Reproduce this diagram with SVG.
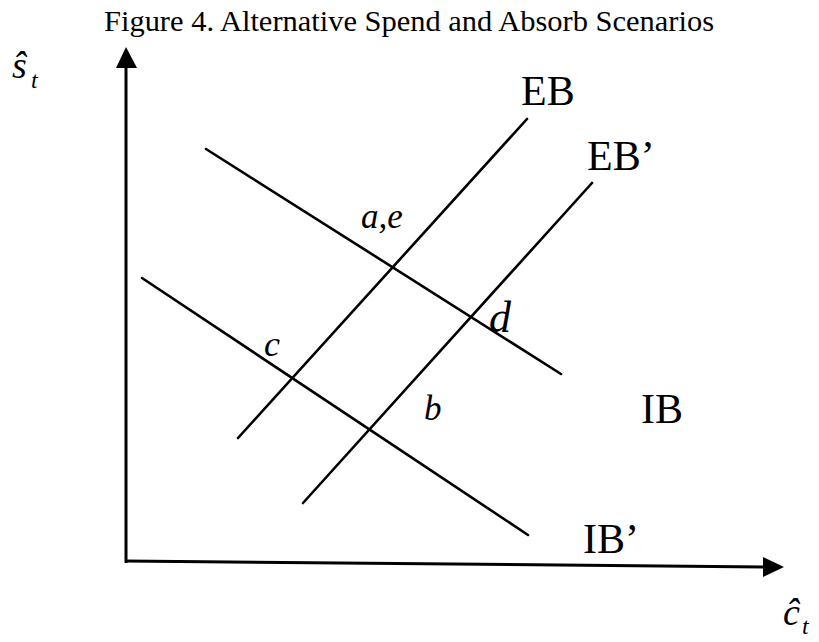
<svg xmlns="http://www.w3.org/2000/svg" width="819" height="642" viewBox="0 0 819 642">
<style>
.t{font-family:"Liberation Serif","Times New Roman",serif;fill:#000}
.i{font-family:"Liberation Serif","Times New Roman",serif;font-style:italic;fill:#000}
.ax{stroke:#000;stroke-width:3;fill:none}
.ln{stroke:#000;stroke-width:2.6;fill:none;stroke-linecap:round}
</style>
<rect width="819" height="642" fill="#fff"/>
<text class="t" x="104" y="31" font-size="29" textLength="610" lengthAdjust="spacingAndGlyphs">Figure 4. Alternative Spend and Absorb Scenarios</text>
<g id="axes">
<line class="ax" x1="126" y1="563" x2="126" y2="66"/>
<polygon points="126,47 116,68 137,68" fill="#000"/>
<line class="ax" x1="125" y1="561" x2="765" y2="567"/>
<polygon points="784,567 763,557 763,577" fill="#000"/>
</g>
<g id="axis-labels">
<text class="i" x="12" y="78" font-size="38">ŝ</text>
<text class="i" x="31" y="88" font-size="24">t</text>
<text class="i" x="783" y="625" font-size="38">ĉ</text>
<text class="i" x="802" y="634" font-size="24">t</text>
</g>
<g id="connectors">
<line id="IB-line" class="ln" x1="206" y1="149" x2="561" y2="374"/>
<line id="IBp-line" class="ln" x1="142" y1="278" x2="528" y2="535"/>
<line id="EB-line" class="ln" x1="238" y1="438" x2="527" y2="119"/>
<line id="EBp-line" class="ln" x1="303" y1="503" x2="592" y2="183"/>
</g>
<g id="EB"><text class="t" x="521" y="105" font-size="42">EB</text></g>
<g id="EBp"><text class="t" x="587" y="170" font-size="42">EB’</text></g>
<g id="IB"><text class="t" x="641" y="423" font-size="42">IB</text></g>
<g id="IBp"><text class="t" x="583" y="553" font-size="42">IB’</text></g>
<g id="pt-ae"><text class="i" x="361" y="228" font-size="35">a,e</text></g>
<g id="pt-d"><text class="i" x="489" y="332" font-size="44">d</text></g>
<g id="pt-c"><text class="i" x="264" y="356" font-size="36">c</text></g>
<g id="pt-b"><text class="i" x="424" y="420" font-size="35">b</text></g>
</svg>
